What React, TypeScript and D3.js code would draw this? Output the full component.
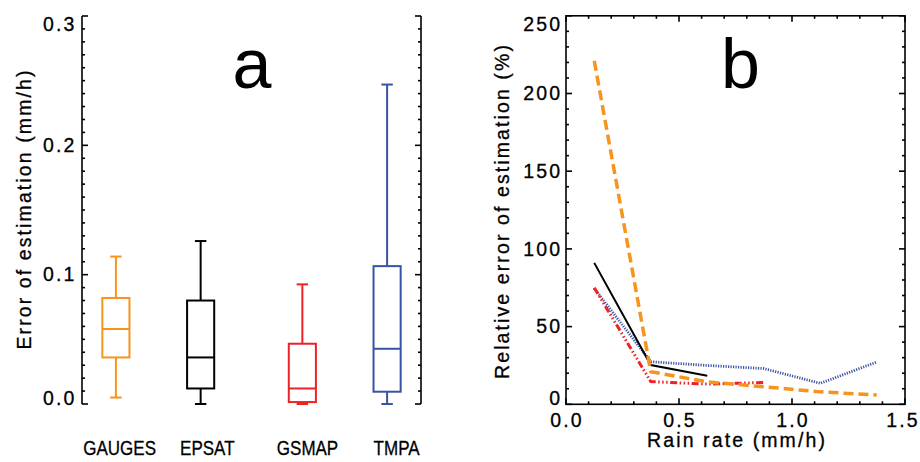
import React from "react";
import * as d3 from "d3";

// ---------- Panel a: box plots ----------
const categories = ["GAUGES", "EPSAT", "GSMAP", "TMPA"];
const boxPositions = [0.4, 1.4, 2.6, 3.6];
const whiskerLow = [0.005, 0.0, 0.0, 0.0];
const quartile1 = [0.036, 0.012, 0.0015, 0.0095];
const medians = [0.058, 0.036, 0.012, 0.0427];
const quartile3 = [0.082, 0.08, 0.0466, 0.1066];
const whiskerHigh = [0.114, 0.126, 0.0925, 0.247];
const seriesColors = ["#F7941E", "#000000", "#EC2227", "#3953A4"];
const leftTickLabels = ["0.0", "0.1", "0.2", "0.3"];

// ---------- Panel b: relative error lines ----------
const rainRate = [0.125, 0.375, 0.625, 0.875, 1.125, 1.375];
const gaugesRel = [221, 21, 14.4, 11.3, 8, 6];
const epsatRel = [91, 25.3, 18.4];
const gsmapRel = [75, 14.6, 13, 14];
const tmpaRel = [74.6, 27.4, 25, 23, 13.5, 27.2];
const rightYTickLabels = ["0", "50", "100", "150", "200", "250"];
const rightXTickLabels = ["0.0", "0.5", "1.0", "1.5"];

const FONT = "'Liberation Sans', Arial, Helvetica, sans-serif";
const LS = 2.1;
const TXT_STROKE = 0.3;

export default function App() {
  // scales panel a
  const xA = d3.scaleLinear().domain([0, 4]).range([82, 421]);
  const yA = d3.scaleLinear().domain([0, 0.3]).range([404, 16]);
  const labelScale = d3.scaleLinear().domain([0, 3.5]).range([83.3, 422]);
  const boxW = 0.32;
  const capW = 0.135;

  // scales panel b
  const xB = d3.scaleLinear().domain([0, 1.5]).range([566, 905]);
  const yB = d3.scaleLinear().domain([0, 250]).range([404.3, 15.8]);

  const leftMinor = d3.range(0, 31).map((i) => i / 100);
  const bXMinor = d3.range(0, 16).map((i) => i / 10);
  const bYMinor = d3.range(0, 26).map((i) => i * 10);

  const lineGen = d3
    .line<[number, number]>()
    .x((d) => xB(d[0]))
    .y((d) => yB(d[1]));

  const series = [
    { vals: tmpaRel, color: seriesColors[3], width: 2.8, dash: "1.2,1.3" },
    { vals: gsmapRel, color: seriesColors[2], width: 3, dash: "7,2.5,1.5,2.5,1.5,2.5,1.5,2.5" },
    { vals: epsatRel, color: seriesColors[1], width: 2, dash: "none" },
    { vals: gaugesRel, color: seriesColors[0], width: 3.5, dash: "10,5" },
  ];

  const yTickNudge = (i: number, n: number) => (i === 0 ? -6 : i === n - 1 ? 8 : 0);
  const xTickNudge = (i: number, n: number) => (i === n - 1 ? -3 : 0);

  const textProps = {
    fontSize: 19.5,
    letterSpacing: LS,
    stroke: "#000",
    strokeWidth: TXT_STROKE,
    fill: "#000",
  };

  return (
    <svg
      width={920}
      height={462}
      style={{ position: "absolute", left: 0, top: 0, background: "#fff" }}
      fontFamily={FONT}
    >
      <rect x={0} y={0} width={920} height={462} fill="#fff" />

      {/* ---------- Panel a ---------- */}
      <g stroke="#000" strokeWidth={1.6}>
        <line x1={xA(0)} x2={xA(0)} y1={yA(0)} y2={yA(0.3)} />
        <line x1={xA(4)} x2={xA(4)} y1={yA(0)} y2={yA(0.3)} />
        {leftMinor.map((v, i) => {
          const major = i % 10 === 0;
          const len = major ? 6 : 3;
          return (
            <g key={i}>
              <line x1={xA(0)} x2={xA(0) + len} y1={yA(v)} y2={yA(v)} />
              <line x1={xA(4)} x2={xA(4) - len} y1={yA(v)} y2={yA(v)} />
            </g>
          );
        })}
      </g>
      {leftTickLabels.map((t, i) => (
        <text
          key={t}
          x={74.3 + LS}
          y={yA(i / 10) + yTickNudge(i, leftTickLabels.length)}
          dy="0.35em"
          textAnchor="end"
          {...textProps}
        >
          {t}
        </text>
      ))}
      <text transform={`translate(30.5,209) rotate(-90)`} textAnchor="middle" {...textProps}>
        Error of estimation (mm/h)
      </text>
      <text x={252} y={88.3} textAnchor="middle" fontSize={70}>
        a
      </text>

      {categories.map((c, i) => {
        const cx = xA(boxPositions[i]);
        const x0 = xA(boxPositions[i] - boxW / 2);
        const x1 = xA(boxPositions[i] + boxW / 2);
        const c0 = xA(boxPositions[i] - capW / 2);
        const c1 = xA(boxPositions[i] + capW / 2);
        const col = seriesColors[i];
        return (
          <g key={c} stroke={col} strokeWidth={2} fill="none">
            <line x1={cx} x2={cx} y1={yA(quartile3[i])} y2={yA(whiskerHigh[i])} />
            <line x1={cx} x2={cx} y1={yA(quartile1[i])} y2={yA(whiskerLow[i])} />
            <line x1={c0} x2={c1} y1={yA(whiskerHigh[i])} y2={yA(whiskerHigh[i])} />
            <line x1={c0} x2={c1} y1={yA(whiskerLow[i])} y2={yA(whiskerLow[i])} />
            <rect x={x0} y={yA(quartile3[i])} width={x1 - x0} height={yA(quartile1[i]) - yA(quartile3[i])} />
            <line x1={x0} x2={x1} y1={yA(medians[i])} y2={yA(medians[i])} />
          </g>
        );
      })}
      {categories.map((c, i) => (
        <g key={c} transform={`translate(${labelScale(i)},455) scale(0.85,1)`}>
          <text x={0} y={0} fontSize={20} stroke="#000" strokeWidth={TXT_STROKE}>
            {c}
          </text>
        </g>
      ))}

      {/* ---------- Panel b ---------- */}
      <g stroke="#000" strokeWidth={1.6} fill="none">
        <rect x={xB(0)} y={yB(250)} width={xB(1.5) - xB(0)} height={yB(0) - yB(250)} />
        {bXMinor.map((v, i) => {
          const len = i % 5 === 0 ? 6 : 3;
          return (
            <g key={"x" + i}>
              <line x1={xB(v)} x2={xB(v)} y1={yB(0)} y2={yB(0) - len} />
              <line x1={xB(v)} x2={xB(v)} y1={yB(250)} y2={yB(250) + len} />
            </g>
          );
        })}
        {bYMinor.map((v, i) => {
          const len = i % 5 === 0 ? 6 : 3;
          return (
            <g key={"y" + i}>
              <line x1={xB(0)} x2={xB(0) + len} y1={yB(v)} y2={yB(v)} />
              <line x1={xB(1.5)} x2={xB(1.5) - len} y1={yB(v)} y2={yB(v)} />
            </g>
          );
        })}
      </g>

      {series.map((s, k) => (
        <path
          key={k}
          d={lineGen(s.vals.map((v, i) => [rainRate[i], v] as [number, number])) || ""}
          fill="none"
          stroke={s.color}
          strokeWidth={s.width}
          strokeDasharray={s.dash}
          strokeLinejoin="miter"
        />
      ))}

      {rightYTickLabels.map((t, i) => (
        <text
          key={t}
          x={560 + LS}
          y={yB(i * 50) + yTickNudge(i, rightYTickLabels.length)}
          dy="0.35em"
          textAnchor="end"
          {...textProps}
        >
          {t}
        </text>
      ))}
      {rightXTickLabels.map((t, i) => (
        <text
          key={t}
          x={xB(i * 0.5) + LS / 2 + xTickNudge(i, rightXTickLabels.length)}
          y={426.7}
          textAnchor="middle"
          {...textProps}
        >
          {t}
        </text>
      ))}
      <text x={736 + LS / 2} y={447} textAnchor="middle" {...textProps}>
        Rain rate (mm/h)
      </text>
      <text transform={`translate(508.5,211) rotate(-90)`} textAnchor="middle" {...textProps}>
        Relative error of estimation (%)
      </text>
      <text x={740.5} y={88.3} textAnchor="middle" fontSize={70}>
        b
      </text>
    </svg>
  );
}
